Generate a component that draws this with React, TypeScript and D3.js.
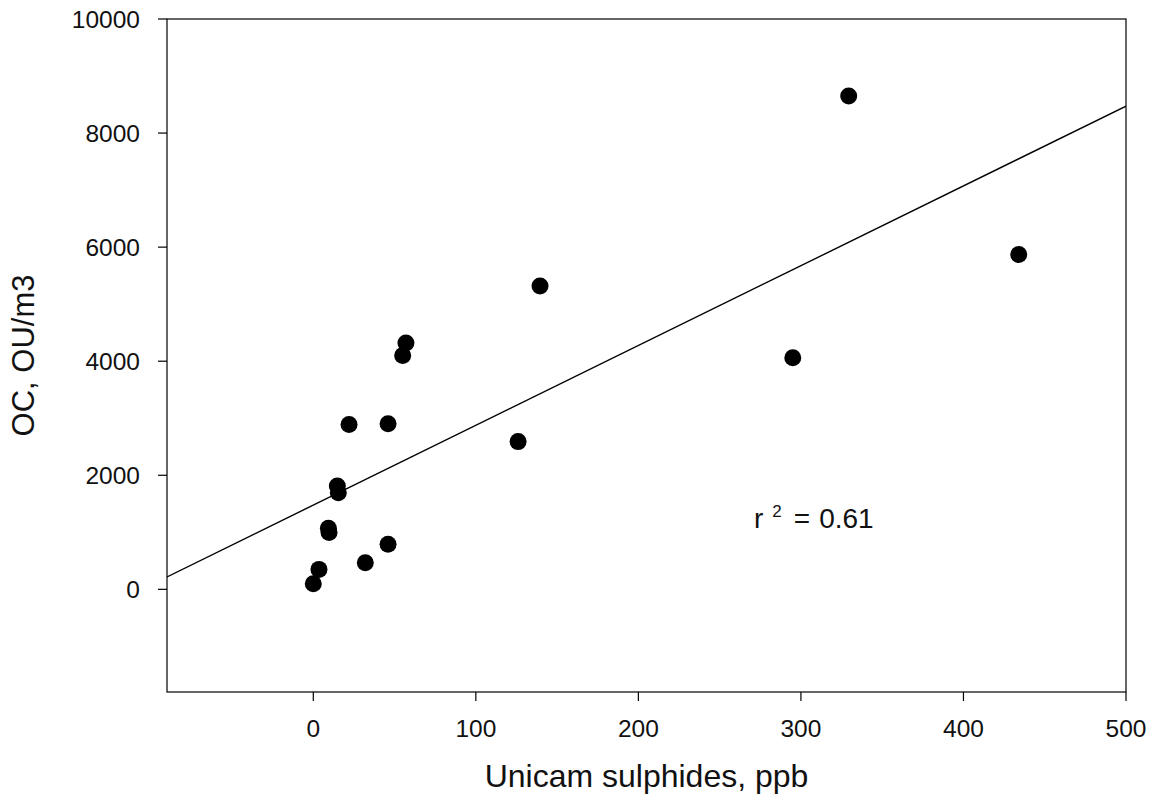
import React from "react";
import * as d3 from "d3";

const sulphides = [0, 3.5, 9.3, 9.7, 14.8, 15.4, 22, 46, 32, 46, 126, 139.5, 57, 55, 329.4, 434, 295];
const ocValues = [100, 350, 1070, 995, 1810, 1695, 2890, 2905, 465, 790, 2590, 5320, 4320, 4100, 8650, 5870, 4060];
const xTicks = [0, 100, 200, 300, 400, 500];
const yTicks = [0, 2000, 4000, 6000, 8000, 10000];
const xTitle = "Unicam sulphides, ppb";
const yTitle = "OC, OU/m3";
const r2Label = "0.61";

const W = 1157, H = 810;
const L = 167, R = 1126, T = 19, B = 692;
const FONT = "'Liberation Sans', Arial, sans-serif";

export default function App() {
  const x = d3.scaleLinear().domain([-90, 500]).range([L, R]);
  const y = d3.scaleLinear().domain([-1800, 10000]).range([B, T]);

  const mx = d3.mean(sulphides)!;
  const my = d3.mean(ocValues)!;
  let sxy = 0, sxx = 0;
  sulphides.forEach((v, i) => { sxy += (v - mx) * (ocValues[i] - my); sxx += (v - mx) ** 2; });
  const slope = sxy / sxx;
  const intercept = my - slope * mx;
  const fit = d3.line<number>().x(d => x(d)).y(d => y(intercept + slope * d));
  const fitPts = [-90, 500];

  return (
    <svg width={W} height={H} style={{ position: "absolute", left: 0, top: 0, background: "#fff" }} fontFamily={FONT}>
      <rect x={0} y={0} width={W} height={H} fill="#fff" />
      <defs>
        <clipPath id="plot"><rect x={L} y={T} width={R - L} height={B - T} /></clipPath>
      </defs>
      <path d={fit(fitPts)!} stroke="#000" strokeWidth={1.4} fill="none" clipPath="url(#plot)" />
      {sulphides.map((v, i) => (
        <circle key={i} cx={x(v)} cy={y(ocValues[i])} r={8.5} fill="#000" />
      ))}
      <rect x={L} y={T} width={R - L} height={B - T} fill="none" stroke="#000" strokeWidth={1.2} />
      {yTicks.map(t => (
        <g key={t}>
          <line x1={L - 9} x2={L} y1={y(t)} y2={y(t)} stroke="#000" strokeWidth={1.2} />
          <text x={L - 27} y={y(t)} dy="0.35em" textAnchor="end" fontSize={24.5} fill="#111">{t}</text>
        </g>
      ))}
      {xTicks.map(t => (
        <g key={t}>
          <line x1={x(t)} x2={x(t)} y1={B} y2={B + 9} stroke="#000" strokeWidth={1.2} />
          <text x={x(t)} y={737} textAnchor="middle" fontSize={24.5} fill="#111">{t}</text>
        </g>
      ))}
      <text x={(L + R) / 2} y={787} textAnchor="middle" fontSize={32} fill="#111">{xTitle}</text>
      <text transform={`translate(34, ${(T + B) / 2}) rotate(-90)`} textAnchor="middle" fontSize={31} fill="#111">{yTitle}</text>
      <text x={754} y={528} fontSize={28} fill="#111">
        r<tspan fontSize={17} dy={-11} dx={9}>2</tspan><tspan dy={11} dx={12}>=</tspan><tspan dx={9}>{r2Label}</tspan>
      </text>
    </svg>
  );
}
